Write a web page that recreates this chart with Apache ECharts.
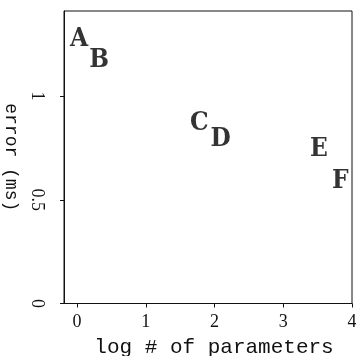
<!DOCTYPE html>
<html>
<head>
<meta charset="utf-8">
<script src="https://cdn.jsdelivr.net/npm/echarts@6/dist/echarts.min.js"></script>
<style>
  html, body { margin: 0; padding: 0; background: #fff; }
  #chart { width: 356px; height: 356px; }
</style>
</head>
<body>
<div id="chart"></div>
<script>
// Model labels and their measured error against model size
const modelNames = ['A', 'B', 'C', 'D', 'E', 'F'];
const logParams = [0.03, 0.32, 1.78, 2.09, 3.52, 3.83];
const errorMs = [1.285, 1.18, 0.877, 0.80, 0.754, 0.599];

const xTicks = [0, 1, 2, 3, 4];
const yTicks = [0, 0.5, 1];

const points = modelNames.map((n, i) => ({ name: n, value: [logParams[i], errorMs[i]] }));

const chart = echarts.init(document.getElementById('chart'));
const ink = '#111';

chart.setOption({
  animation: false,
  backgroundColor: '#fff',
  grid: {
    left: 64, right: 4, top: 11, bottom: 52.5,
    containLabel: false,
    outerBoundsMode: 'none',
    show: true,
    borderColor: ink,
    borderWidth: 1
  },
  xAxis: {
    type: 'value',
    min: -0.19,
    max: 4,
    splitLine: { show: false },
    axisLine: { show: true, onZero: false, lineStyle: { color: ink, width: 1 } },
    axisTick: { show: true, inside: false, length: 4, customValues: xTicks, lineStyle: { color: ink } },
    axisLabel: {
      customValues: xTicks,
      margin: 10,
      color: ink,
      fontFamily: 'Liberation Serif',
      fontSize: 18
    },
    name: 'log # of parameters',
    nameLocation: 'middle',
    nameGap: 33,
    nameTextStyle: { color: ink, fontFamily: 'Liberation Mono', fontSize: 21, padding: [0, 0, 0, 12] }
  },
  yAxis: {
    type: 'value',
    min: 0,
    max: 1.41,
    splitLine: { show: false },
    axisLine: { show: true, onZero: false, lineStyle: { color: ink, width: 1 } },
    axisTick: { show: true, inside: false, length: 4, customValues: yTicks, lineStyle: { color: ink } },
    axisLabel: {
      customValues: yTicks,
      rotate: -90,
      margin: 18,
      color: ink,
      fontFamily: 'Liberation Serif',
      fontSize: 18
    },
    name: 'error (ms)',
    nameLocation: 'middle',
    nameRotate: -90,
    nameGap: 42,
    nameTextStyle: { color: ink, fontFamily: 'Liberation Mono', fontSize: 18 }
  },
  series: [{
    type: 'scatter',
    data: points,
    symbolSize: 1,
    itemStyle: { color: 'transparent' },
    label: {
      show: true,
      position: 'inside',
      offset: [0, 2],
      formatter: p => p.name,
      color: '#000',
      fontFamily: '"DejaVu Serif Condensed", "DejaVu Serif", serif',
      fontWeight: 'bold',
      fontSize: 26
    }
  }]
});
</script>
</body>
</html>
